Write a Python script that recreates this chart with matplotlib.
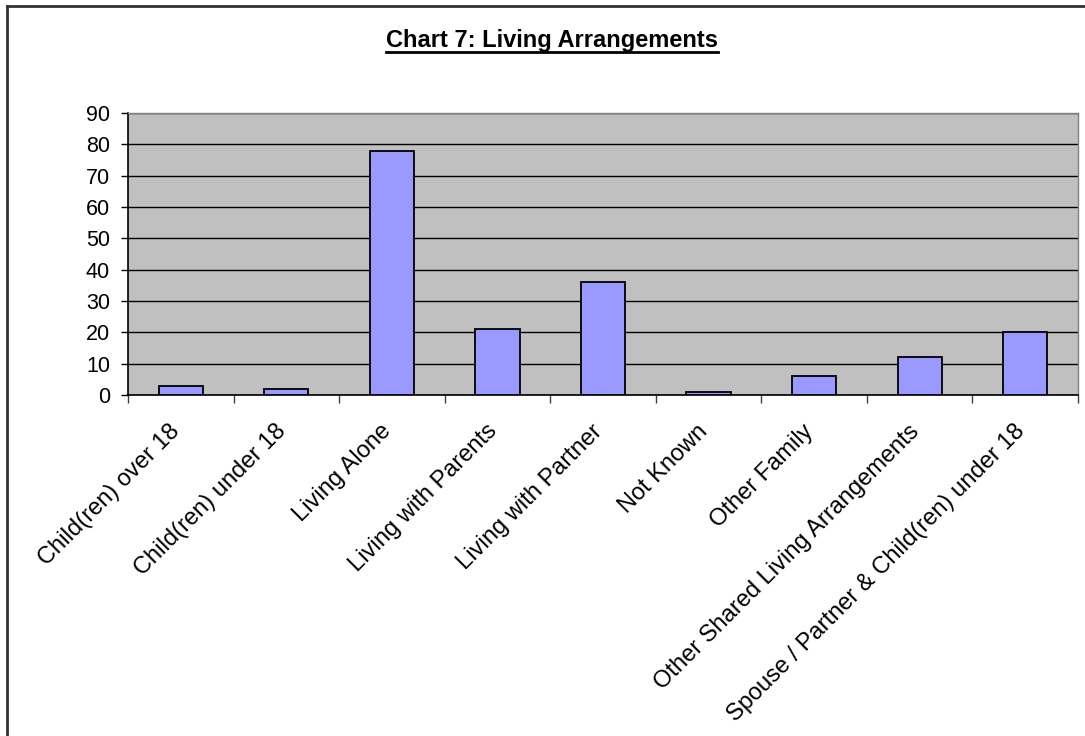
import matplotlib
matplotlib.use("Agg")
import matplotlib.pyplot as plt
from matplotlib.lines import Line2D
from matplotlib.transforms import offset_copy
import numpy as np

categories = ["Child(ren) over 18", "Child(ren) under 18", "Living Alone",
              "Living with Parents", "Living with Partner", "Not Known",
              "Other Family", "Other Shared Living Arrangements",
              "Spouse / Partner & Child(ren) under 18"]
values = [3, 2, 78, 21, 36, 1, 6, 12, 20]
yticks = [0, 10, 20, 30, 40, 50, 60, 70, 80, 90]
title = "Chart 7: Living Arrangements"

plt.rcParams['font.family'] = ['Liberation Sans', 'DejaVu Sans']

W, H = 1085, 736
fig = plt.figure(figsize=(W / 100, H / 100), dpi=100)
fig.patch.set_facecolor('white')
ax = fig.add_axes([128 / W, 1 - 395 / H, (1078 - 128) / W, (395 - 113) / H])
ax.set_facecolor('#C0C0C0')

x = np.arange(len(categories))
ax.bar(x, values, width=0.42, color='#9999FF', edgecolor='black', linewidth=1.3, zorder=3)
ax.set_xlim(-0.5, len(categories) - 0.5)
ax.set_ylim(0, 90)
ax.set_yticks(yticks)
ax.set_yticklabels([str(v) for v in yticks], fontsize=15.5)
ax.yaxis.grid(True, color='black', linewidth=1.0, zorder=1)
ax.set_axisbelow(True)

ax.set_xticks(np.arange(-0.5, len(categories), 1.0))
ax.set_xticklabels([])
ax.tick_params(axis='x', length=6, width=1, color='#404040', direction='out')
ax.tick_params(axis='y', length=5, width=1, color='black', direction='out', pad=8)
for side in ['top', 'right']:
    ax.spines[side].set_color('#808080')
    ax.spines[side].set_linewidth(1)
for side in ['left', 'bottom']:
    ax.spines[side].set_color('black')
    ax.spines[side].set_linewidth(1.2)

trans = offset_copy(ax.get_xaxis_transform(), fig=fig, x=-4, y=-33, units='dots')
for i, lab in enumerate(categories):
    ax.text(i, 0, lab, transform=trans, rotation=45, ha='right', va='center',
            rotation_mode='anchor', fontsize=17)

t = fig.text(552 / W, 1 - 41 / H, title, ha='center', va='center', fontsize=17,
             fontweight='bold')
fig.canvas.draw()
bb = t.get_window_extent()
yline = H - 52
fig.add_artist(Line2D([bb.x0 / W, bb.x1 / W], [yline / H, yline / H],
                      transform=fig.transFigure, color='black', linewidth=2))

# outer chart border (left and top visible)
fig.add_artist(Line2D([7 / W, 7 / W], [0, 1 - 6 / H], transform=fig.transFigure,
                      color='#333333', linewidth=2))
fig.add_artist(Line2D([7 / W, 1], [1 - 6 / H, 1 - 6 / H], transform=fig.transFigure,
                      color='#333333', linewidth=2))

fig.savefig("out.png", dpi=100)
